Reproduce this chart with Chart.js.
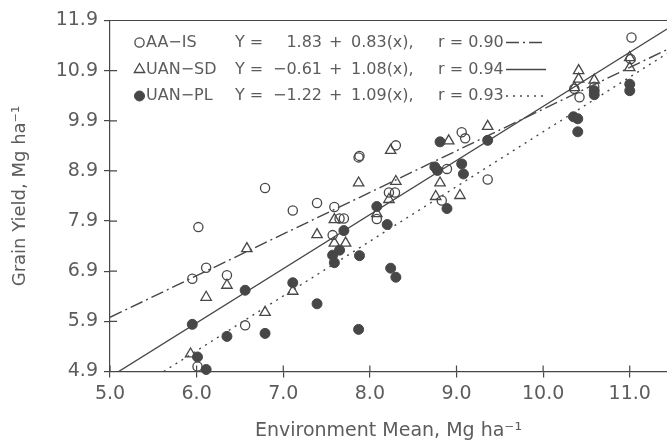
<!DOCTYPE html>
<html>
<head>
<meta charset="utf-8">
<script src="https://cdn.jsdelivr.net/npm/chart.js@4.4.0/dist/chart.umd.min.js"></script>
<style>
  html, body { margin: 0; padding: 0; background: #fff; }
</style>
</head>
<body>
<canvas id="yieldChart" width="667" height="444"></canvas>
<script>
// values
const xTicks = [5.0, 6.0, 7.0, 8.0, 9.0, 10.0, 11.0];
const yTicks = [4.9, 5.9, 6.9, 7.9, 8.9, 9.9, 10.9, 11.9];

const aaisX = [5.95, 6.02, 6.01, 6.11, 6.35, 6.56, 6.79, 7.11, 7.39, 7.59, 7.57, 7.65, 7.70, 7.87, 7.88, 8.08, 8.22, 8.29, 8.30, 8.83, 8.89, 9.06, 9.10, 9.36, 10.36, 10.42, 10.59, 11.01, 11.02];
const aaisY = [6.75, 7.78, 5.00, 6.97, 6.82, 5.82, 8.56, 8.11, 8.26, 8.18, 7.62, 7.95, 7.95, 9.17, 9.20, 7.94, 8.47, 8.47, 9.41, 8.31, 8.94, 9.67, 9.55, 8.73, 10.54, 10.37, 10.58, 11.13, 11.56];

const uansdX = [5.93, 6.11, 6.35, 6.58, 6.79, 7.11, 7.39, 7.59, 7.59, 7.72, 7.87, 8.08, 8.22, 8.24, 8.30, 8.76, 8.81, 8.91, 9.04, 9.36, 10.36, 10.41, 10.41, 10.59, 11.00, 11.00];
const uansdY = [5.25, 6.38, 6.62, 7.35, 6.08, 6.50, 7.63, 7.93, 7.46, 7.46, 8.66, 8.05, 8.33, 9.31, 8.69, 8.39, 8.66, 9.50, 8.41, 9.79, 10.56, 10.73, 10.90, 10.71, 11.16, 10.96];

const uanplX = [5.95, 6.01, 6.11, 6.35, 6.56, 6.79, 7.11, 7.39, 7.57, 7.59, 7.65, 7.70, 7.87, 7.88, 8.08, 8.20, 8.24, 8.30, 8.75, 8.78, 8.81, 8.89, 9.06, 9.08, 9.36, 10.35, 10.40, 10.40, 10.59, 10.59, 11.00, 11.00];
const uanplY = [5.84, 5.19, 4.94, 5.60, 6.52, 5.66, 6.67, 6.25, 7.22, 7.07, 7.32, 7.71, 5.74, 7.21, 8.19, 7.83, 6.96, 6.78, 8.98, 8.91, 9.48, 8.15, 9.04, 8.84, 9.51, 9.98, 9.94, 9.68, 10.50, 10.42, 10.63, 10.50];

// regression line end points
const aaisLineX = [5.00, 11.43];
const aaisLineY = [5.98, 11.32];
const uansdLineX = [5.10, 11.43];
const uansdLineY = [4.90, 11.73];
const uanplLineX = [5.62, 11.43];
const uanplLineY = [4.90, 11.24];

// legend text
const seriesNames = ["AA\u2212IS", "UAN\u2212SD", "UAN\u2212PL"];
const intercepts = ["1.83", "\u22120.61", "\u22121.22"];
const slopes = ["0.83", "1.08", "1.09"];
const rValues = ["0.90", "0.94", "0.93"];

const ink = "#474747";
const textInk = "#5c5c5c";
const family = "'DejaVu Sans', 'Liberation Sans', sans-serif";

const pts = (xs, ys) => xs.map((x, i) => ({ x: x, y: ys[i] }));

const markerSets = [
  { label: seriesNames[0], data: pts(aaisX, aaisY), pointStyle: "circle", pointRadius: 4.6, pointBorderWidth: 1.3, pointBorderColor: ink, pointBackgroundColor: "rgba(0,0,0,0)", dash: [13, 4, 2, 4] },
  { label: seriesNames[1], data: pts(uansdX, uansdY), pointStyle: "triangle", pointRadius: 6, pointBorderWidth: 1.3, pointBorderColor: ink, pointBackgroundColor: "rgba(0,0,0,0)", dash: [] },
  { label: seriesNames[2], data: pts(uanplX, uanplY), pointStyle: "circle", pointRadius: 5, pointBorderWidth: 1, pointBorderColor: ink, pointBackgroundColor: ink, dash: [2, 5] }
];

const lineSets = [
  { data: pts(aaisLineX, aaisLineY), borderDash: [13, 4, 2, 4] },
  { data: pts(uansdLineX, uansdLineY), borderDash: [] },
  { data: pts(uanplLineX, uanplLineY), borderDash: [2, 5] }
];

const datasets = [];
lineSets.forEach(l => datasets.push({
  type: "line",
  data: l.data,
  borderColor: ink,
  borderWidth: 1.4,
  borderDash: l.borderDash,
  pointRadius: 0,
  fill: false,
  tension: 0
}));
markerSets.forEach(m => datasets.push({
  type: "scatter",
  label: m.label,
  data: m.data,
  pointStyle: m.pointStyle,
  pointRadius: m.pointRadius,
  pointBorderWidth: m.pointBorderWidth,
  pointBorderColor: m.pointBorderColor,
  pointBackgroundColor: m.pointBackgroundColor,
  clip: false
}));

// top frame line, inner half of the ticks and the equation legend
const framePlugin = {
  id: "frame",
  afterDraw(chart) {
    const { ctx, chartArea: a, scales } = chart;
    ctx.save();
    ctx.strokeStyle = ink;
    ctx.lineWidth = 1.2;
    ctx.beginPath();
    ctx.moveTo(a.left, a.top);
    ctx.lineTo(a.right, a.top);
    scales.x.ticks.forEach(t => {
      const px = scales.x.getPixelForValue(t.value);
      ctx.moveTo(px, a.bottom);
      ctx.lineTo(px, a.bottom - 6);
    });
    scales.y.ticks.forEach(t => {
      const py = scales.y.getPixelForValue(t.value);
      ctx.moveTo(a.left, py);
      ctx.lineTo(a.left + 7, py);
    });
    ctx.stroke();

    const rowY = [a.top + 22, a.top + 49, a.top + 75.5];
    ctx.font = "16px " + family;
    ctx.textBaseline = "middle";
    markerSets.forEach((m, i) => {
      const y = rowY[i];
      ctx.strokeStyle = ink;
      ctx.fillStyle = m.pointBackgroundColor;
      ctx.lineWidth = m.pointBorderWidth;
      ctx.setLineDash([]);
      Chart.helpers.drawPoint(ctx, { pointStyle: m.pointStyle, radius: m.pointRadius, borderWidth: m.pointBorderWidth, rotation: 0 }, a.left + 29.5, y);

      ctx.fillStyle = textInk;
      ctx.textAlign = "left";
      ctx.fillText(m.label, a.left + 36, y);
      ctx.fillText("Y =", a.left + 125, y);
      ctx.textAlign = "right";
      ctx.fillText(intercepts[i], a.left + 212, y);
      ctx.textAlign = "left";
      ctx.fillText("+", a.left + 219, y);
      ctx.fillText(slopes[i] + "(x),", a.left + 241, y);
      ctx.fillText("r = " + rValues[i], a.left + 328, y);

      ctx.strokeStyle = ink;
      ctx.lineWidth = 1.4;
      ctx.setLineDash(m.dash);
      ctx.beginPath();
      ctx.moveTo(a.left + 396, y);
      ctx.lineTo(a.left + 436, y);
      ctx.stroke();
    });
    ctx.restore();
  }
};

const ctx = document.getElementById("yieldChart").getContext("2d");
const yieldChart = new Chart(ctx, {
  type: "scatter",
  data: { datasets: datasets },
  options: {
    responsive: false,
    animation: false,
    layout: { autoPadding: false, padding: { top: 20.5, left: 0, right: 0, bottom: 0 } },
    plugins: {
      legend: { display: false },
      tooltip: { enabled: false }
    },
    scales: {
      x: {
        type: "linear",
        min: 5.0,
        max: 11.43,
        afterBuildTicks: (scale) => { scale.ticks = xTicks.map(v => ({ value: v })); },
        afterFit: (scale) => { scale.height = 72.5; },
        ticks: {
          callback: (v) => Number(v).toFixed(1),
          font: { family: family, size: 19 },
          color: textInk,
          padding: 5,
          maxRotation: 0,
          autoSkip: false
        },
        grid: { drawOnChartArea: false, tickLength: 6, color: ink, lineWidth: 1.2 },
        border: { color: ink, width: 1.2 },
        title: {
          display: true,
          text: "Environment Mean, Mg ha\u207B\u00B9",
          font: { family: family, size: 19 },
          color: textInk,
          padding: { top: 0, bottom: 2 }
        }
      },
      y: {
        type: "linear",
        min: 4.9,
        max: 11.9,
        afterBuildTicks: (scale) => { scale.ticks = yTicks.map(v => ({ value: v })); },
        afterFit: (scale) => { scale.width = 110; },
        ticks: {
          callback: (v) => Number(v).toFixed(1),
          font: { family: family, size: 19 },
          color: textInk,
          padding: 6,
          autoSkip: false
        },
        grid: { drawOnChartArea: false, tickLength: 6, color: ink, lineWidth: 1.2 },
        border: { color: ink, width: 1.2 },
        title: {
          display: true,
          text: "Grain Yield, Mg ha\u207B\u00B9",
          font: { family: family, size: 18 },
          color: textInk,
          padding: { top: 10, bottom: 0 }
        }
      }
    }
  },
  plugins: [framePlugin]
});
</script>
</body>
</html>
